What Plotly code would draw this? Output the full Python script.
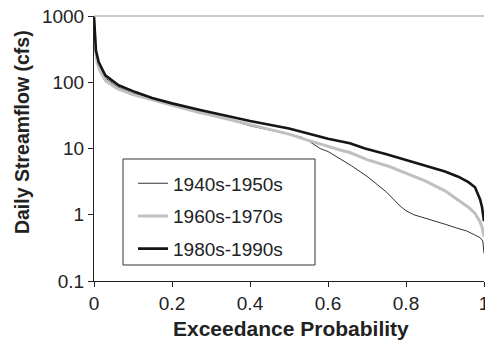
import plotly.graph_objects as go

# ---- data ----
series_names = ["1940s-1950s", "1960s-1970s", "1980s-1990s"]

exceed_4050 = [0, 0.003, 0.008, 0.015, 0.03, 0.06, 0.1, 0.15, 0.2, 0.27, 0.3, 0.4, 0.45,
               0.5, 0.53, 0.55, 0.58, 0.6, 0.63, 0.66, 0.7, 0.733, 0.75, 0.785, 0.8, 0.82,
               0.85, 0.87, 0.9, 0.93, 0.955, 0.975, 0.99, 0.997, 1.0]
flow_4050 = [900, 400, 220, 170, 115, 85, 68, 56, 47, 36, 33, 22, 19,
             16.5, 15, 13, 10, 9, 7.1, 5.5, 3.8, 2.6, 2.2, 1.35, 1.15, 1.0,
             0.89, 0.83, 0.72, 0.63, 0.57, 0.5, 0.45, 0.4, 0.26]

exceed_6070 = [0, 0.003, 0.008, 0.015, 0.03, 0.06, 0.1, 0.15, 0.2, 0.27, 0.3, 0.4, 0.5,
               0.545, 0.6, 0.631, 0.656, 0.7, 0.759, 0.8, 0.849, 0.9, 0.934, 0.96,
               0.977, 0.99, 0.995, 1.0]
flow_6070 = [850, 330, 200, 150, 105, 80, 65, 54, 45, 35, 32, 23, 16.5,
             13.5, 10.7, 9.5, 8.7, 6.8, 5.3, 4.2, 3.25, 2.3, 1.67, 1.3,
             1.05, 0.78, 0.65, 0.47]

exceed_8090 = [0, 0.002, 0.005, 0.012, 0.029, 0.063, 0.106, 0.149, 0.2, 0.272, 0.3, 0.374,
               0.4, 0.5, 0.6, 0.656, 0.695, 0.75, 0.8, 0.849, 0.9, 0.934, 0.96, 0.977,
               0.99, 0.995, 0.998, 1.0]
flow_8090 = [980, 500, 300, 202, 127, 90, 71, 58, 48, 38, 35, 28.6,
             26, 20, 14, 12, 10, 8.2, 6.7, 5.6, 4.5, 3.75, 3.1, 2.6,
             1.7, 1.3, 0.95, 0.8]

y_tickvals = [0.1, 1, 10, 100, 1000]
y_ticktext = ["0.1", "1", "10", "100", "1000"]
x_tickvals = [0, 0.2, 0.4, 0.6, 0.8, 1]
x_ticktext = ["0", "0.2", "0.4", "0.6", "0.8", "1"]

FONT = "Liberation Sans, Arial, sans-serif"

fig = go.Figure()
fig.add_trace(go.Scatter(x=exceed_4050, y=flow_4050, mode="lines", name=series_names[0],
                         legendgroup="a", line=dict(color="#333333", width=1)))
fig.add_trace(go.Scatter(x=exceed_6070, y=flow_6070, mode="lines", name=series_names[1],
                         legendgroup="b", line=dict(color="#c0c0c0", width=3)))
fig.add_trace(go.Scatter(x=exceed_8090, y=flow_8090, mode="lines", name=series_names[2],
                         legendgroup="c", line=dict(color="#151515", width=2.6)))

fig.update_layout(
    width=485, height=342,
    margin=dict(l=94, r=1, t=16, b=61, autoexpand=False),
    paper_bgcolor="white", plot_bgcolor="white",
    font=dict(family=FONT, size=19, color="#222222"),
    showlegend=True,
    legend=dict(x=0.1, y=0.44, xanchor="left", yanchor="top",
                bgcolor="rgba(0,0,0,0)", borderwidth=0,
                font=dict(family=FONT, size=19, color="#222222"),
                traceorder="grouped", tracegroupgap=5),
    xaxis=dict(range=[0, 1], tickvals=x_tickvals, ticktext=x_ticktext, automargin=False,
               ticklabeloverflow="allow",
               showgrid=False, zeroline=False, showline=True, linecolor="#222222",
               linewidth=1, ticks="outside", ticklen=5, tickcolor="#222222",
               tickfont=dict(family=FONT, size=19, color="#222222")),
    yaxis=dict(type="log", range=[-1, 3], tickvals=y_tickvals, ticktext=y_ticktext,
               automargin=False, ticklabeloverflow="allow",
               showgrid=False, zeroline=False, showline=True, linecolor="#222222",
               linewidth=1, ticks="outside", ticklen=5, tickcolor="#222222",
               tickfont=dict(family=FONT, size=19, color="#222222")),
    shapes=[
        dict(type="line", xref="paper", yref="paper", x0=0, x1=1, y0=1, y1=1,
             line=dict(color="#999999", width=1)),
        dict(type="rect", xref="paper", yref="paper", x0=0.0744, x1=0.5667,
             y0=0.0604, y1=0.4604, line=dict(color="#333333", width=1),
             fillcolor="rgba(0,0,0,0)"),
    ],
    annotations=[
        dict(text="<b>Exceedance Probability</b>", xref="paper", yref="paper",
             x=0.505, y=-0.181, xanchor="center", yanchor="middle", showarrow=False,
             font=dict(family=FONT, size=21, color="#222222")),
        dict(text="<b>Daily Streamflow (cfs)</b>", xref="paper", yref="paper",
             x=-0.1846, y=0.562, xanchor="center", yanchor="middle", showarrow=False,
             textangle=-90, font=dict(family=FONT, size=19.5, color="#222222")),
    ],
)

fig.write_html("out.html",
               config={"displayModeBar": False},
               post_script="document.body.style.margin='0';"
                           "document.body.style.overflow='hidden';")
